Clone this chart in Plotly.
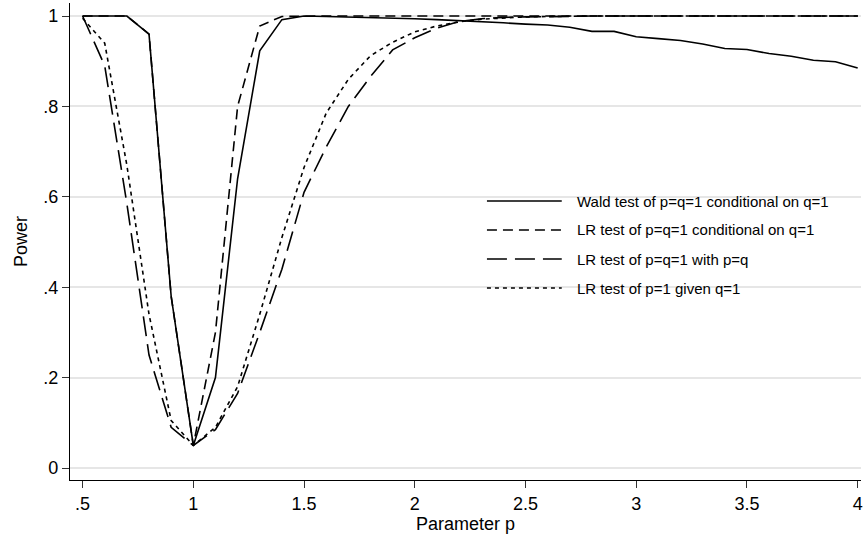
import plotly.graph_objects as go

# ---------------- data ----------------
p = [0.5, 0.6, 0.7, 0.8, 0.9, 1.0, 1.1, 1.2, 1.3, 1.4, 1.5, 1.6, 1.7, 1.8, 1.9,
     2.0, 2.1, 2.2, 2.3, 2.4, 2.5, 2.6, 2.7, 2.8, 2.9, 3.0, 3.1, 3.2, 3.3, 3.4,
     3.5, 3.6, 3.7, 3.8, 3.9, 4.0]

wald = [1.0, 1.0, 1.0, 0.96, 0.38, 0.05, 0.20, 0.64, 0.923, 0.992, 1.0, 0.999,
        0.998, 0.997, 0.996, 0.994, 0.992, 0.990, 0.988, 0.985, 0.982, 0.980,
        0.975, 0.966, 0.966, 0.954, 0.950, 0.946, 0.938, 0.928, 0.926, 0.917,
        0.911, 0.902, 0.899, 0.885]

lr_cond = [1.0, 1.0, 1.0, 0.96, 0.38, 0.05, 0.30, 0.80, 0.978, 0.999, 1.0, 1.0,
           1.0, 1.0, 1.0, 1.0, 1.0, 1.0, 1.0, 1.0, 1.0, 1.0, 1.0, 1.0, 1.0, 1.0,
           1.0, 1.0, 1.0, 1.0, 1.0, 1.0, 1.0, 1.0, 1.0, 1.0]

lr_pq = [1.0, 0.89, 0.585, 0.25, 0.09, 0.05, 0.085, 0.165, 0.30, 0.44, 0.61,
         0.71, 0.80, 0.866, 0.925, 0.952, 0.973, 0.988, 0.994, 0.997, 0.998,
         0.999, 1.0, 1.0, 1.0, 1.0, 1.0, 1.0, 1.0, 1.0, 1.0, 1.0, 1.0, 1.0, 1.0, 1.0]

lr_p1 = [0.995, 0.94, 0.67, 0.34, 0.105, 0.05, 0.09, 0.18, 0.34, 0.51, 0.665,
         0.785, 0.86, 0.912, 0.942, 0.965, 0.978, 0.987, 0.993, 0.996, 0.998,
         0.999, 1.0, 1.0, 1.0, 1.0, 1.0, 1.0, 1.0, 1.0, 1.0, 1.0, 1.0, 1.0, 1.0, 1.0]

series_names = [
    "Wald test of p=q=1 conditional on q=1",
    "LR test of p=q=1 conditional on q=1",
    "LR test of p=q=1 with p=q",
    "LR test of p=1 given q=1",
]

x_tickvals = [0.5, 1, 1.5, 2, 2.5, 3, 3.5, 4]
x_ticktext = [".5", "1", "1.5", "2", "2.5", "3", "3.5", "4"]
y_tickvals = [0, 0.2, 0.4, 0.6, 0.8, 1]
y_ticktext = ["0", ".2", ".4", ".6", ".8", "1"]

# ---------------- styling ----------------
FONT = "Liberation Sans, Arial, Helvetica, sans-serif"
dashes = ["solid", "10px,6px", "20px,8px", "4px,4px"]
LW = 1.6

fig = go.Figure()
for ys, name, d in zip([wald, lr_cond, lr_pq, lr_p1], series_names, dashes):
    fig.add_trace(go.Scatter(x=p, y=ys, mode="lines", name=name,
                             line=dict(color="black", width=LW, dash=d),
                             showlegend=False))

# manual legend (keys + labels) inside the plot area, in paper coordinates
W, H = 863, 537
ml, mr, mt, mb = 70, 0, 3, 57
pw, ph = W - ml - mr, H - mt - mb


def px(xp):
    return (xp - ml) / pw


def py(yp):
    return (H - mb - yp) / ph


rows_y = [201, 230, 259, 288]
for name, d, yy in zip(series_names, dashes, rows_y):
    fig.add_shape(type="line", xref="paper", yref="paper",
                  x0=px(488), x1=px(563), y0=py(yy), y1=py(yy),
                  line=dict(color="black", width=LW, dash=d))
    fig.add_annotation(xref="paper", yref="paper", x=px(576), y=py(yy),
                       text=name, showarrow=False, xanchor="left",
                       yanchor="middle",
                       font=dict(family=FONT, size=15, color="black"))

fig.update_layout(
    width=W, height=H,
    margin=dict(l=ml, r=mr, t=mt, b=mb, pad=0),
    paper_bgcolor="white", plot_bgcolor="white",
    font=dict(family=FONT, color="black"),
)

fig.update_xaxes(
    range=[0.4432, 4.015],
    tickvals=x_tickvals, ticktext=x_ticktext,
    showgrid=False, zeroline=False,
    showline=True, linecolor="black", linewidth=1.3,
    ticks="outside", ticklen=7, tickwidth=1.3, tickcolor="#333333",
    ticklabeloverflow="allow",
    tickfont=dict(family=FONT, size=18, color="black"),
    title=dict(text="Parameter p", font=dict(family=FONT, size=18, color="black"),
               standoff=2),
)
fig.update_yaxes(
    range=[-0.0265, 1.0288],
    tickvals=y_tickvals, ticktext=y_ticktext,
    showgrid=True, gridcolor="#e6e6e6", gridwidth=1.5, zeroline=False,
    showline=True, linecolor="black", linewidth=1.3,
    ticks="outside", ticklen=7, tickwidth=1.3, tickcolor="#333333",
    tickfont=dict(family=FONT, size=18, color="black"),
    title=dict(text="Power", font=dict(family=FONT, size=18, color="black"),
               standoff=10),
)

fig.write_html("out.html")
